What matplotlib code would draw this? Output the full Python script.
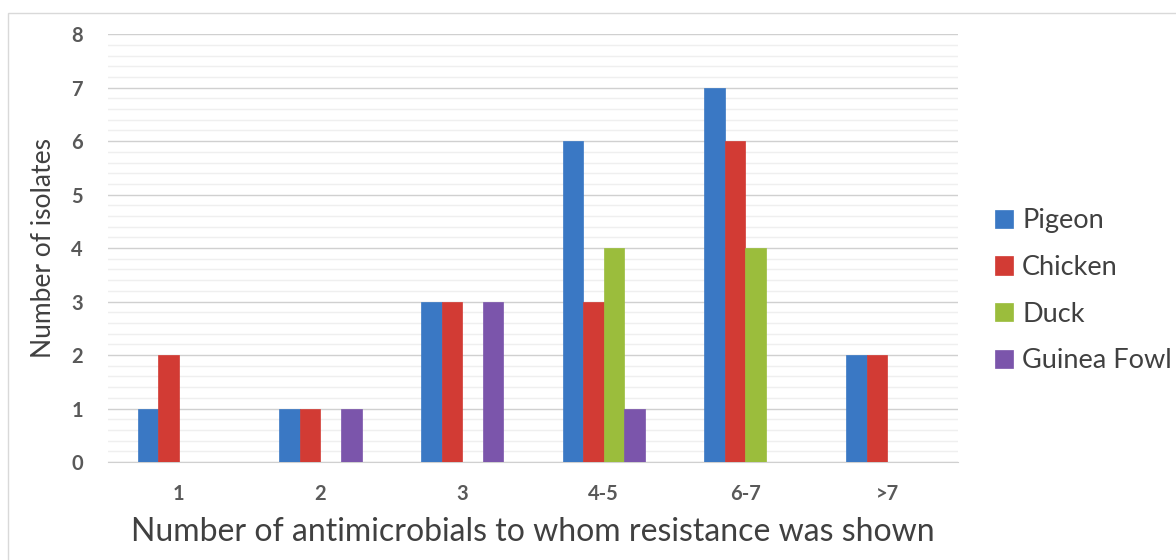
import matplotlib.pyplot as plt
import numpy as np
from matplotlib.patches import Rectangle

categories = ['1', '2', '3', '4-5', '6-7', '>7']
pigeon = [1, 1, 3, 6, 7, 2]
chicken = [2, 1, 3, 3, 6, 2]
duck = [0, 0, 0, 4, 4, 0]
guinea_fowl = [0, 1, 3, 1, 0, 0]

series = [('Pigeon', pigeon, '#3a78c4'),
          ('Chicken', chicken, '#d23b34'),
          ('Duck', duck, '#9bbd3c'),
          ('Guinea Fowl', guinea_fowl, '#7b55ab')]

plt.rcParams['font.family'] = ['Lato', 'DejaVu Sans']

fig = plt.figure(figsize=(11.76, 5.6), dpi=100)
ax = fig.add_axes([0.0918, 0.175, 0.7228, 0.764])

# cadre gris autour du graphique
fig.patches.append(Rectangle((0.007, -0.01), 1.0, 0.987, transform=fig.transFigure,
                             fill=False, edgecolor='#d9d9d9', linewidth=1))

x = np.arange(len(categories))
w = 0.145
for i, (nombre, vals, col) in enumerate(series):
    ax.bar(x + (i - 1.5) * w, vals, w, color=col, label=nombre,
           edgecolor=col, linewidth=0.5, zorder=3)

ax.set_xlim(-0.5, len(categories) - 0.5)
ax.set_ylim(0, 8)
ax.set_yticks(range(0, 9))
ax.set_yticks(np.arange(0, 8, 0.2), minor=True)
ax.grid(axis='y', which='major', color='#d0d0d0', linewidth=1, zorder=0)
ax.grid(axis='y', which='minor', color='#efefef', linewidth=1, zorder=0)
ax.tick_params(axis='y', which='minor', length=0)
ax.tick_params(axis='both', which='major', length=0, labelsize=14.5, labelcolor='#595959', pad=18)
ax.tick_params(axis='x', pad=16)
for lab in ax.get_yticklabels() + ax.get_xticklabels():
    lab.set_fontweight('bold')
ax.set_xticks(x)
ax.set_xticklabels(categories)

for s in ['top', 'right', 'left']:
    ax.spines[s].set_visible(False)
ax.spines['bottom'].set_color('#d0d0d0')

ax.set_ylabel('Number of isolates', fontsize=19, color='#404040', labelpad=11)
ax.set_xlabel('Number of antimicrobials to whom resistance was shown', fontsize=23,
              color='#404040', labelpad=9)

ax.legend(loc='center left', bbox_to_anchor=(1.015, 0.40), frameon=False, fontsize=19.5,
          handlelength=0.65, handleheight=0.65, handletextpad=0.35, labelspacing=0.8,
          labelcolor='#404040')

fig.savefig('out.png', dpi=100)
